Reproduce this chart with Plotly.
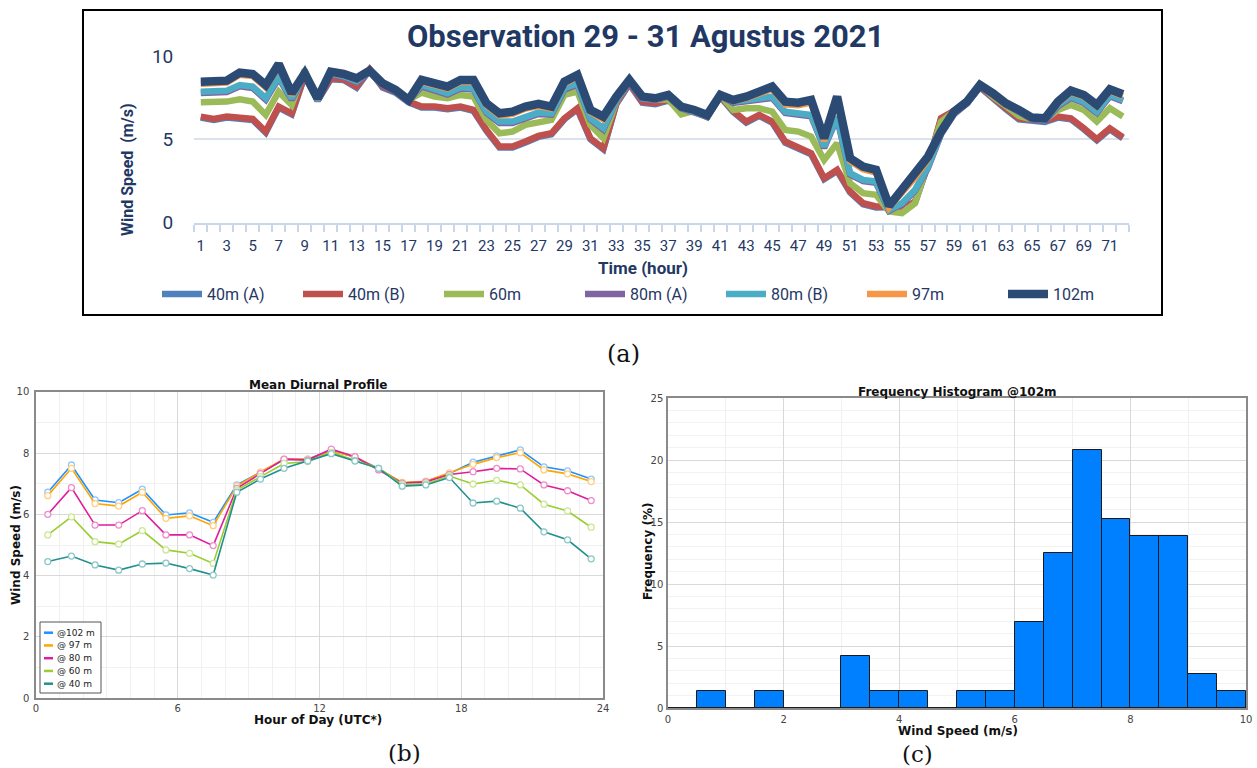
import plotly.graph_objects as go

# ---------------- Panel (a) data: hourly wind speed, 29-31 Aug 2021 ----------------
hours_a = list(range(1, 73))
ws_40A = [6.30, 6.16, 6.30, 6.25, 6.16, 5.40, 6.90, 6.50, 8.80, 7.32,
          8.60, 8.56, 8.10, 9.16, 8.10, 7.80, 7.22, 6.90, 6.90, 6.80,
          6.90, 6.70, 5.50, 4.50, 4.50, 4.80, 5.14, 5.30, 6.20, 6.80,
          5.00, 4.40, 7.12, 8.32, 7.20, 7.10, 7.32, 6.82, 6.66, 6.32,
          7.56, 6.64, 6.00, 6.40, 6.00, 4.80, 4.50, 4.10, 2.60, 3.10,
          1.80, 1.10, 0.90, 0.92, 0.76, 1.20, 3.45, 6.20, 6.64, 7.16,
          8.12, 7.40, 6.80, 6.20, 6.12, 6.04, 6.30, 6.20, 5.60, 4.94,
          5.60, 5.06]
ws_40B = [6.36, 6.22, 6.36, 6.30, 6.22, 5.46, 6.96, 6.56, 8.86, 7.36,
          8.66, 8.60, 8.16, 9.20, 8.16, 7.86, 7.26, 6.96, 6.96, 6.86,
          6.96, 6.76, 5.56, 4.56, 4.56, 4.86, 5.20, 5.36, 6.26, 6.86,
          5.06, 4.46, 7.16, 8.36, 7.26, 7.16, 7.36, 6.86, 6.70, 6.36,
          7.60, 6.70, 6.06, 6.46, 6.06, 4.86, 4.56, 4.16, 2.66, 3.16,
          1.86, 1.16, 0.96, 0.96, 0.80, 1.26, 3.50, 6.26, 6.70, 7.20,
          8.16, 7.46, 6.86, 6.26, 6.16, 6.10, 6.36, 6.26, 5.66, 5.00,
          5.66, 5.12]
ws_60 = [7.22, 7.22, 7.26, 7.40, 7.26, 6.46, 7.86, 7.06, 9.16, 7.36,
         8.96, 8.80, 8.46, 9.10, 8.26, 7.96, 7.36, 7.80, 7.56, 7.46,
         7.66, 7.56, 6.16, 5.36, 5.46, 5.86, 6.06, 6.16, 7.66, 7.86,
         5.86, 5.06, 7.26, 8.46, 7.46, 7.36, 7.40, 6.50, 6.70, 6.36,
         7.66, 6.76, 6.86, 6.86, 6.66, 5.56, 5.46, 5.16, 3.76, 4.76,
         2.36, 1.76, 1.66, 0.66, 0.56, 1.16, 3.60, 6.06, 6.66, 7.26,
         8.26, 7.56, 7.00, 6.40, 6.20, 6.16, 6.76, 7.06, 6.76, 6.06,
         6.86, 6.36]
ws_80A = [7.78, 7.78, 7.84, 8.18, 8.08, 7.38, 8.68, 7.38, 8.84, 7.32,
          8.90, 8.74, 8.44, 9.06, 8.24, 7.86, 7.32, 8.18, 7.88, 7.68,
          8.04, 7.98, 6.58, 5.98, 5.98, 6.28, 6.52, 6.48, 7.98, 8.28,
          6.18, 5.58, 7.30, 8.42, 7.42, 7.36, 7.56, 6.86, 6.66, 6.36,
          7.62, 7.18, 7.28, 7.38, 7.48, 6.58, 6.48, 6.38, 4.48, 6.28,
          2.88, 2.48, 2.38, 0.70, 1.10, 1.90, 3.28, 5.30, 6.50, 7.14,
          8.20, 7.60, 7.10, 6.64, 6.20, 6.10, 6.98, 7.48, 7.18, 6.58,
          7.58, 7.28]
ws_80B = [7.86, 7.86, 7.92, 8.26, 8.16, 7.46, 8.76, 7.46, 8.90, 7.36,
          8.96, 8.80, 8.50, 9.10, 8.30, 7.90, 7.36, 8.26, 7.96, 7.76,
          8.12, 8.06, 6.66, 6.06, 6.06, 6.36, 6.60, 6.56, 8.06, 8.36,
          6.26, 5.66, 7.36, 8.46, 7.46, 7.40, 7.60, 6.90, 6.70, 6.40,
          7.66, 7.26, 7.36, 7.46, 7.56, 6.66, 6.56, 6.46, 4.56, 6.36,
          2.96, 2.56, 2.46, 0.76, 1.16, 1.96, 3.36, 5.36, 6.56, 7.20,
          8.26, 7.66, 7.16, 6.70, 6.26, 6.16, 7.06, 7.56, 7.26, 6.66,
          7.66, 7.36]
ws_97 = [8.34, 8.34, 8.40, 8.88, 8.80, 8.12, 9.38, 7.66, 8.90, 7.42,
         9.00, 8.86, 8.60, 9.08, 8.30, 7.92, 7.34, 8.46, 8.22, 8.04,
         8.44, 8.44, 7.04, 6.42, 6.52, 6.84, 7.00, 6.84, 8.34, 8.74,
         6.64, 6.20, 7.48, 8.52, 7.50, 7.42, 7.60, 6.92, 6.72, 6.42,
         7.62, 7.30, 7.46, 7.74, 8.02, 7.10, 7.04, 7.20, 4.90, 7.40,
         3.70, 3.20, 3.00, 0.90, 1.80, 2.70, 3.80, 5.40, 6.62, 7.22,
         8.22, 7.70, 7.10, 6.72, 6.26, 6.22, 7.16, 7.82, 7.56, 6.96,
         7.90, 7.60]
ws_102 = [8.46, 8.46, 8.52, 9.00, 8.92, 8.26, 9.52, 7.76, 8.96, 7.46,
          9.06, 8.92, 8.66, 9.12, 8.36, 7.96, 7.36, 8.56, 8.34, 8.16,
          8.56, 8.56, 7.16, 6.56, 6.66, 6.96, 7.12, 6.96, 8.46, 8.86,
          6.76, 6.36, 7.56, 8.56, 7.56, 7.46, 7.66, 6.96, 6.76, 6.46,
          7.66, 7.36, 7.56, 7.86, 8.16, 7.26, 7.20, 7.36, 5.06, 7.56,
          3.86, 3.36, 3.16, 1.00, 1.96, 2.86, 3.96, 5.46, 6.66, 7.26,
          8.26, 7.76, 7.16, 6.76, 6.30, 6.26, 7.26, 7.92, 7.66, 7.06,
          8.00, 7.70]
names_a = ["40m (A)", "40m (B)", "60m", "80m (A)", "80m (B)", "97m", "102m"]
xticks_a = list(range(1, 72, 2))

# ---------------- Panel (b) data: mean diurnal profile ----------------
hours_b = [0.5, 1.5, 2.5, 3.5, 4.5, 5.5, 6.5, 7.5, 8.5, 9.5, 10.5, 11.5,
           12.5, 13.5, 14.5, 15.5, 16.5, 17.5, 18.5, 19.5, 20.5, 21.5, 22.5, 23.5]
diurnal_102 = [6.72, 7.61, 6.47, 6.38, 6.82, 5.98, 6.05, 5.74, 6.96, 7.36, 7.78, 7.80,
               8.10, 7.86, 7.50, 7.02, 7.07, 7.33, 7.70, 7.90, 8.10, 7.55, 7.42, 7.15]
diurnal_97 = [6.61, 7.50, 6.35, 6.27, 6.72, 5.87, 5.95, 5.63, 6.92, 7.38, 7.80, 7.80,
              8.05, 7.88, 7.48, 7.04, 7.08, 7.35, 7.63, 7.85, 8.01, 7.45, 7.32, 7.07]
diurnal_80 = [6.00, 6.87, 5.65, 5.65, 6.12, 5.33, 5.33, 4.98, 6.85, 7.33, 7.80, 7.77,
              8.13, 7.88, 7.45, 7.02, 7.06, 7.30, 7.39, 7.50, 7.48, 6.96, 6.77, 6.45]
diurnal_60 = [5.33, 5.92, 5.11, 5.03, 5.47, 4.84, 4.73, 4.40, 6.79, 7.23, 7.66, 7.72,
              8.02, 7.76, 7.50, 6.98, 7.00, 7.25, 6.99, 7.11, 6.96, 6.33, 6.11, 5.58]
diurnal_40 = [4.46, 4.64, 4.35, 4.18, 4.38, 4.41, 4.23, 4.02, 6.72, 7.15, 7.50, 7.74,
              7.98, 7.74, 7.50, 6.92, 6.96, 7.20, 6.37, 6.43, 6.20, 5.43, 5.17, 4.55]
names_b = ["@102 m", "@ 97 m", "@ 80 m", "@ 60 m", "@ 40 m"]

# ---------------- Panel (c) data: frequency histogram @102m ----------------
bin_lo = [0.0, 0.5, 1.0, 1.5, 2.0, 2.5, 3.0, 3.5, 4.0, 4.5,
          5.0, 5.5, 6.0, 6.5, 7.0, 7.5, 8.0, 8.5, 9.0, 9.5]
freq_pct = [0.0, 1.39, 0.0, 1.39, 0.0, 0.0, 4.17, 1.39, 1.39, 0.0,
            1.39, 1.39, 6.94, 12.50, 20.83, 15.28, 13.89, 13.89, 2.78, 1.39]
bin_width = 0.5

# ---------------- styling ----------------
W, H = 1257, 768
def X(p): return p / W
def Y(p): return 1 - p / H

NAVY = "#1F3864"
cols_a = ["#4F81BD", "#C0504D", "#9BBB59", "#8064A2", "#4BACC6", "#F79646", "#2B4B74"]
widths_a = [6.5, 6.5, 6.5, 6.5, 6.5, 6.5, 8.5]
cols_b = ["#1E90FF", "#FFA500", "#DE1E9C", "#9ACD32", "#23908E"]
mk_b = ["#8FC7FF", "#FFD080", "#EE8ECD", "#CDE698", "#8CC8C6"]
F_A = "Roboto, Arial, sans-serif"
F_B = "DejaVu Sans, Verdana, sans-serif"

fig = go.Figure()

for nm, vals, c, w in zip(names_a, [ws_40A, ws_40B, ws_60, ws_80A, ws_80B, ws_97, ws_102], cols_a, widths_a):
    fig.add_trace(go.Scatter(x=hours_a, y=vals, mode="lines", name=nm,
                             line=dict(color=c, width=w), xaxis="x", yaxis="y",
                             legend="legend", hoverinfo="skip"))

for nm, vals, c, mc in zip(names_b, [diurnal_102, diurnal_97, diurnal_80, diurnal_60, diurnal_40], cols_b, mk_b):
    fig.add_trace(go.Scatter(x=hours_b, y=vals, mode="lines+markers", name=nm,
                             line=dict(color=c, width=1.6),
                             marker=dict(symbol="circle", size=6, color="white",
                                         line=dict(color=mc, width=1.3)),
                             xaxis="x2", yaxis="y2", showlegend=False, hoverinfo="skip"))

fig.add_trace(go.Bar(x=bin_lo, y=freq_pct, width=bin_width, offset=0,
                     marker=dict(color="#0080FF", line=dict(color="#1a1a1a", width=1)),
                     xaxis="x3", yaxis="y3", showlegend=False, hoverinfo="skip"))

def ann(text, x, y, size, family, color="#111", angle=0):
    return dict(text=text, x=X(x), y=Y(y), xref="paper", yref="paper", showarrow=False,
                xanchor="center", yanchor="middle", textangle=angle,
                font=dict(family=family, size=size, color=color))

annotations = [
    ann("<b>Observation 29 - 31 Agustus 2021</b>", 645, 36, 31, F_A, NAVY),
    ann("<b>Wind Speed  (m/s)</b>", 128, 170, 16, F_A, NAVY, -90),
    ann("<b>Time (hour)</b>", 643, 268, 17, F_A, NAVY),
    ann("(a)", 623, 354, 24, "DejaVu Serif, serif"),
    ann("(b)", 405, 753, 23, "DejaVu Serif, serif"),
    ann("(c)", 918, 754, 23, "DejaVu Serif, serif"),
    ann("<b>Mean Diurnal Profile</b>", 318, 385, 12, F_B),
    ann("<b>Hour of Day (UTC*)</b>", 318, 720, 12, F_B),
    ann("<b>Wind Speed (m/s)</b>", 16, 545, 12, F_B, "#111", -90),
    ann("<b>Frequency Histogram @102m</b>", 958, 392, 12, F_B),
    ann("<b>Wind Speed (m/s)</b>", 958, 731, 12, F_B),
    ann("<b>Frequency (%)</b>", 648, 552, 12, F_B, "#111", -90),
]

shapes = [dict(type="rect", xref="paper", yref="paper", x0=X(83), x1=X(1162),
               y0=Y(315), y1=Y(10), line=dict(color="black", width=2))]

# key box of panel (b)
shapes.append(dict(type="rect", xref="paper", yref="paper", x0=X(40), x1=X(101),
                   y0=Y(693), y1=Y(622), line=dict(color="#555", width=1), fillcolor="white",
                   layer="above"))
for i, (nm, c) in enumerate(zip(names_b, cols_b)):
    yy = 632.7 + i * 12.75
    shapes.append(dict(type="line", xref="paper", yref="paper", x0=X(44), x1=X(53),
                       y0=Y(yy), y1=Y(yy), line=dict(color=c, width=2.5), layer="above"))
    annotations.append(dict(text=nm, x=X(55), y=Y(yy), xref="paper", yref="paper",
                            showarrow=False, xanchor="left", yanchor="middle",
                            font=dict(family=F_B, size=9, color="#222")))

tick_b = dict(family=F_B, size=10, color="#444")

fig.update_layout(
    width=W, height=H, margin=dict(l=0, r=0, t=0, b=0, autoexpand=False),
    paper_bgcolor="white", plot_bgcolor="white",
    annotations=annotations, shapes=shapes,
    xaxis=dict(domain=[X(194.3), X(1129.3)], range=[0.5, 72.5], anchor="y",
               tickmode="array", tickvals=xticks_a, ticktext=[str(v) for v in xticks_a],
               tickfont=dict(family=F_A, size=15, color=NAVY), ticks="",
               showgrid=False, zeroline=False, showline=True, linecolor="#C9D6EA", linewidth=2,
               minor=dict(ticks="outside", tick0=0.5, dtick=1, ticklen=7, tickwidth=1.5,
                          tickcolor="#C9D6EA", showgrid=False),
               ticklabelstandoff=8),
    yaxis=dict(domain=[Y(222.5), Y(56)], range=[0, 10], anchor="x",
               tickvals=[0, 5, 10], tickfont=dict(family=F_A, size=19, color=NAVY),
               showgrid=True, gridcolor="#DCE2EC", gridwidth=1.5, zeroline=False,
               showline=False, ticks="", ticklabelstandoff=20),
    legend=dict(orientation="h", x=X(157), y=Y(294), xanchor="left", yanchor="middle",
                font=dict(family=F_A, size=16, color=NAVY), bgcolor="rgba(0,0,0,0)",
                entrywidth=86, entrywidthmode="pixels", itemwidth=40, tracegroupgap=0),
    xaxis2=dict(domain=[X(36), X(603)], range=[0, 24], anchor="y2",
                tickvals=[0, 6, 12, 18, 24], tickfont=tick_b, ticks="",
                showgrid=True, gridcolor="#D9D9D9", zeroline=False,
                showline=True, linecolor="#8A8A8A", linewidth=1.5, mirror=True,
                minor=dict(dtick=1, tick0=0, showgrid=True, gridcolor="#F0F0F0"),
                ticklabelstandoff=0),
    yaxis2=dict(domain=[Y(698.3), Y(391.7)], range=[0, 10], anchor="x2",
                tickvals=[0, 2, 4, 6, 8, 10], tickfont=tick_b, ticks="",
                showgrid=True, gridcolor="#D9D9D9", zeroline=False,
                showline=True, linecolor="#8A8A8A", linewidth=1.5, mirror=True,
                minor=dict(dtick=1, tick0=0, showgrid=True, gridcolor="#F0F0F0"),
                ticklabelstandoff=3),
    xaxis3=dict(domain=[X(668), X(1246)], range=[0, 10], anchor="y3",
                tickvals=[0, 2, 4, 6, 8, 10], tickfont=tick_b, ticks="",
                showgrid=True, gridcolor="#D9D9D9", zeroline=False,
                showline=True, linecolor="#8A8A8A", linewidth=1.5, mirror=True,
                minor=dict(dtick=1, tick0=0, showgrid=True, gridcolor="#F0F0F0"),
                ticklabelstandoff=1),
    yaxis3=dict(domain=[Y(708), Y(398)], range=[0, 25], anchor="x3",
                tickvals=[0, 5, 10, 15, 20, 25], tickfont=tick_b, ticks="",
                showgrid=True, gridcolor="#D9D9D9", zeroline=True, zerolinecolor="#111",
                zerolinewidth=2,
                showline=True, linecolor="#8A8A8A", linewidth=1.5, mirror=True,
                minor=dict(dtick=1, tick0=0, showgrid=True, gridcolor="#F2F2F2"),
                ticklabelstandoff=1),
    bargap=0,
)

fig.write_html("out.html")
